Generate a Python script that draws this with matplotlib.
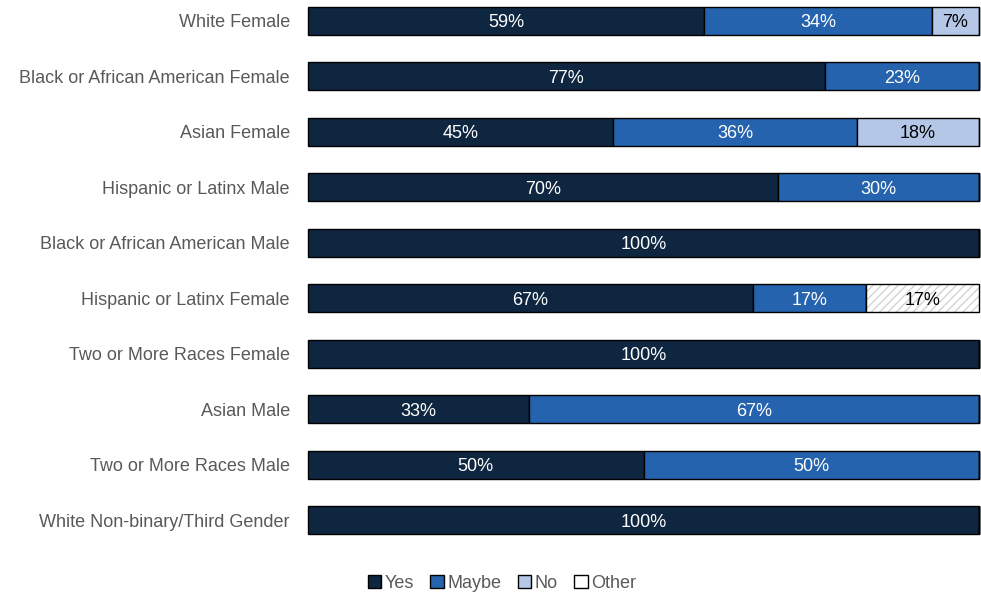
import matplotlib
matplotlib.use("Agg")
import matplotlib.pyplot as plt
from matplotlib.patches import Patch
import numpy as np

plt.rcParams['font.family'] = ['Liberation Sans', 'DejaVu Sans']

categories = [
    "White Female",
    "Black or African American Female",
    "Asian Female",
    "Hispanic or Latinx Male",
    "Black or African American Male",
    "Hispanic or Latinx Female",
    "Two or More Races Female",
    "Asian Male",
    "Two or More Races Male",
    "White Non-binary/Third Gender",
]
yes = [59, 77, 45, 70, 100, 67, 100, 33, 50, 100]
maybe = [34, 23, 36, 30, 0, 17, 0, 67, 50, 0]
no = [7, 0, 18, 0, 0, 0, 0, 0, 0, 0]
other = [0, 0, 0, 0, 0, 17, 0, 0, 0, 0]

series = [
    ("Yes", yes, "#0F2641", "white"),
    ("Maybe", maybe, "#2563AE", "white"),
    ("No", no, "#B4C7E7", "black"),
    ("Other", other, "white", "black"),
]

fig = plt.figure(figsize=(9.81, 5.96), dpi=100)
ax = fig.add_axes([308 / 981, 1 - 534 / 596, 671 / 981, 527 / 596])

y = np.arange(len(categories))
totals = np.array(yes) + np.array(maybe) + np.array(no) + np.array(other)
left = np.zeros(len(categories))
h = 0.5

for name, vals, color, tcolor in series:
    vals = np.array(vals, dtype=float)
    widths = vals / totals * 100
    if name == "Other":
        ax.barh(y, widths, left=left, height=h, color="white",
                edgecolor="#D3D3D3", hatch="////", linewidth=0, clip_on=False)
        ax.barh(y, widths, left=left, height=h, color="none",
                edgecolor="black", linewidth=1.0, clip_on=False)
    else:
        ax.barh(y, widths, left=left, height=h, color=color,
                edgecolor="black", linewidth=1.0, clip_on=False)
    for i, (v, w) in enumerate(zip(vals, widths)):
        if v > 0:
            ax.text(left[i] + w / 2, y[i], f"{int(v)}%", ha="center",
                    va="center_baseline", color=tcolor, fontsize=13)
    left += widths

ax.set_xlim(0, 100)
ax.set_ylim(len(categories) - 1 + 0.25, -0.25)
ax.set_yticks(y)
ax.set_yticklabels(categories, fontsize=13, color="#595959")
ax.tick_params(axis="y", length=0, pad=13)
ax.set_xticks([])
for s in ax.spines.values():
    s.set_visible(False)

handles = [Patch(facecolor=c, edgecolor="black", linewidth=1.0, label=n)
           for n, _, c, _ in series]
fig.legend(handles=handles, loc="center", bbox_to_anchor=(502 / 981, 1 - 583 / 596),
           ncol=4, frameon=False, fontsize=13, handlelength=0.75, handleheight=0.75,
           handletextpad=0.2, columnspacing=0.9, labelcolor="#595959")

fig.savefig("out.png", dpi=100)
